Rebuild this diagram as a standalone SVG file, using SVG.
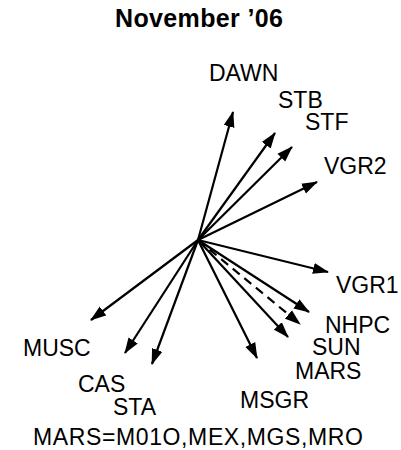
<svg xmlns="http://www.w3.org/2000/svg" width="401" height="450" viewBox="0 0 401 450">
<style>
text{font-family:"Liberation Sans",Arial,sans-serif;font-size:23px;fill:#000}
.title{font-weight:bold;font-size:25px}
.v{stroke:#000;stroke-width:2.2;fill:none;marker-end:url(#ah)}
.d{stroke-dasharray:9,6}
</style>
<defs>
<marker id="ah" markerUnits="userSpaceOnUse" markerWidth="16" markerHeight="12" refX="15" refY="5.5" orient="auto" viewBox="0 0 16 11">
<path d="M0,0 L16,5.5 L0,11 z" fill="#000"/>
</marker>
</defs>
<rect width="401" height="450" fill="#fff"/>
<text class="title" x="115" y="27" textLength="168" lengthAdjust="spacing">November ’06</text>
<g id="connectors">
<line class="v" x1="198" y1="240" x2="233" y2="112"/>
<line class="v" x1="198" y1="240" x2="275" y2="133"/>
<line class="v" x1="198" y1="240" x2="292" y2="147"/>
<line class="v" x1="198" y1="240" x2="317" y2="182"/>
<line class="v" x1="198" y1="240" x2="328" y2="272"/>
<line class="v" x1="198" y1="240" x2="309" y2="312"/>
<line class="v d" x1="198" y1="240" x2="300" y2="324"/>
<line class="v" x1="198" y1="240" x2="288" y2="337"/>
<line class="v" x1="198" y1="240" x2="257" y2="358"/>
<line class="v" x1="198" y1="240" x2="91" y2="320"/>
<line class="v" x1="198" y1="240" x2="125" y2="353"/>
<line class="v" x1="198" y1="240" x2="152" y2="364"/>
</g>
<g id="DAWN"><text x="209" y="81">DAWN</text></g>
<g id="STB"><text x="278" y="108">STB</text></g>
<g id="STF"><text x="305" y="130">STF</text></g>
<g id="VGR2"><text x="324" y="174">VGR2</text></g>
<g id="VGR1"><text x="336" y="293">VGR1</text></g>
<g id="NHPC"><text x="325" y="333">NHPC</text></g>
<g id="SUN"><text x="312" y="355">SUN</text></g>
<g id="MARS"><text x="295" y="379">MARS</text></g>
<g id="MSGR"><text x="240" y="408">MSGR</text></g>
<g id="MUSC"><text x="23" y="356">MUSC</text></g>
<g id="CAS"><text x="78" y="392">CAS</text></g>
<g id="STA"><text x="113" y="415">STA</text></g>
<g id="legend"><text x="33" y="445" textLength="330" lengthAdjust="spacing">MARS=M01O,MEX,MGS,MRO</text></g>
</svg>
